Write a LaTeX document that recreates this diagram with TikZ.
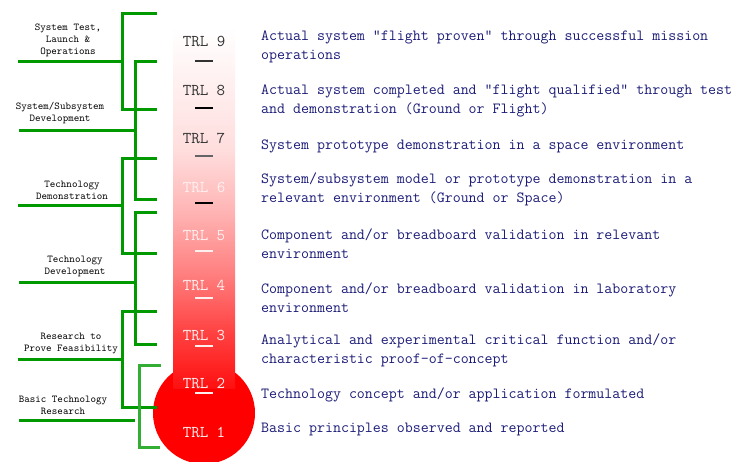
\documentclass[tikz,border=0pt]{standalone}
\usepackage{fontspec}
\setmainfont{Liberation Serif}
\newfontfamily\monofont{Latin Modern Mono}
\definecolor{grn}{RGB}{0,153,0}
\definecolor{navytxt}{RGB}{28,28,120}
\definecolor{darktxt}{RGB}{50,50,50}
\definecolor{midgrey}{RGB}{100,100,100}
\definecolor{pinkwhite}{RGB}{255,240,240}
\definecolor{thA}{RGB}{255,16,16}
\definecolor{thB}{RGB}{255,64,64}
\definecolor{thC}{RGB}{255,128,128}
\definecolor{thD}{RGB}{255,180,180}
\definecolor{thE}{RGB}{255,221,221}
\definecolor{bulbred}{RGB}{255,0,0}
\pgfdeclareverticalshading{thermo}{100bp}{color(0bp)=(thA); color(25bp)=(thA); color(32.5bp)=(thB); color(41bp)=(thC); color(49.5bp)=(thD); color(58bp)=(thE); color(75bp)=(white); color(100bp)=(white)}
\tikzset{
  br/.style={draw=grn, line width=3pt, line join=miter},
  brlight/.style={draw=grn!80!white, line width=3pt, line join=miter},
  trl/.style={font=\monofont\fontsize{16.5}{18}\selectfont, inner sep=0pt},
  dashmark/.style={line width=1.3pt},
  desc/.style={font=\monofont\fontsize{15.5}{18.5}\selectfont, text=navytxt, align=left, anchor=west, inner sep=0pt},
  phase/.style={font=\monofont\fontsize{10.5}{12}\selectfont, align=center, inner sep=0pt}
}
\begin{document}
\begin{tikzpicture}[x=1pt,y=-1pt]
\useasboundingbox (0,0) rectangle (733,462);
% thermometer
\fill[bulbred] (204,413) circle (51pt);
\shade[shading=thermo] (173,28) rectangle (235,388);
% TRL labels
\node[trl, text=darktxt] (t9) at (204,41) {TRL 9};
\node[trl, text=darktxt] (t8) at (204,90) {TRL 8};
\node[trl, text=darktxt] (t7) at (204,138) {TRL 7};
\node[trl, text=pinkwhite] (t6) at (204,187) {TRL 6};
\node[trl, text=pinkwhite] (t5) at (204,236) {TRL 5};
\node[trl, text=pinkwhite] (t4) at (204,285) {TRL 4};
\node[trl, text=pinkwhite] (t3) at (204,335) {TRL 3};
\node[trl, text=pinkwhite] (t2) at (204,383) {TRL 2};
\node[trl, text=pinkwhite] (t1) at (204,432) {TRL 1};
% dashes
\draw[dashmark, darktxt] (195,61) -- (213,61);
\draw[dashmark, black] (195,108) -- (213,108);
\draw[dashmark, midgrey] (195,156) -- (213,156);
\draw[dashmark, black] (195,203) -- (213,203);
\draw[dashmark, pinkwhite] (195,251) -- (213,251);
\draw[dashmark, pinkwhite] (195,298) -- (213,298);
\draw[dashmark, pinkwhite] (195,346) -- (213,346);
\draw[dashmark, pinkwhite] (195,393) -- (213,393);
% descriptions
\node[desc] (d9) at (261,47) {Actual system "flight proven" through successful mission\\operations};
\node[desc] (d8) at (261,101) {Actual system completed and "flight qualified" through test\\and demonstration (Ground or Flight)};
\node[desc] (d7) at (261,146) {System prototype demonstration in a space environment};
\node[desc] (d6) at (261,189.5) {System/subsystem model or prototype demonstration in a\\relevant environment (Ground or Space)};
\node[desc] (d5) at (261,243.5) {Component and/or breadboard validation in relevant\\environment};
\node[desc] (d4) at (261,297.5) {Component and/or breadboard validation in laboratory\\environment};
\node[desc] (d3) at (261,350.5) {Analytical and experimental critical function and/or\\characteristic proof-of-concept};
\node[desc] (d2) at (261,395) {Technology concept and/or application formulated};
\node[desc] (d1) at (261,429) {Basic principles observed and reported};
% phase brackets
\draw[br] (157,14) -| (122,110) -- (157,110);
\draw[br] (18,62) -- (122,62);
\draw[br] (157,62) -| (135,200) -- (157,200);
\draw[br] (19,131) -- (135,131);
\draw[br] (157,159) -| (122,254) -- (157,254);
\draw[br] (18,206) -- (122,206);
\draw[br] (157,213) -| (135,344) -- (157,344);
\draw[br] (19,282) -- (135,282);
\draw[br] (157,311) -| (122,407) -- (157,407);
\draw[br] (18,359) -- (122,359);
\draw[brlight] (161,365) -| (139,447) -- (160,447);
\draw[br] (19,420) -- (135,420);
% phase labels
\node[phase] (pA) at (68,40) {System Test,\\Launch \&\\Operations};
\node[phase] (pB) at (60,113.5) {System/Subsystem\\Development};
\node[phase] (pC) at (72,190.5) {Technology\\Demonstration};
\node[phase] (pD) at (75,266) {Technology\\Development};
\node[phase] (pE) at (71,343) {Research to\\Prove Feasibility};
\node[phase] (pF) at (63,405) {Basic Technology\\Research};
\end{tikzpicture}
\end{document}
